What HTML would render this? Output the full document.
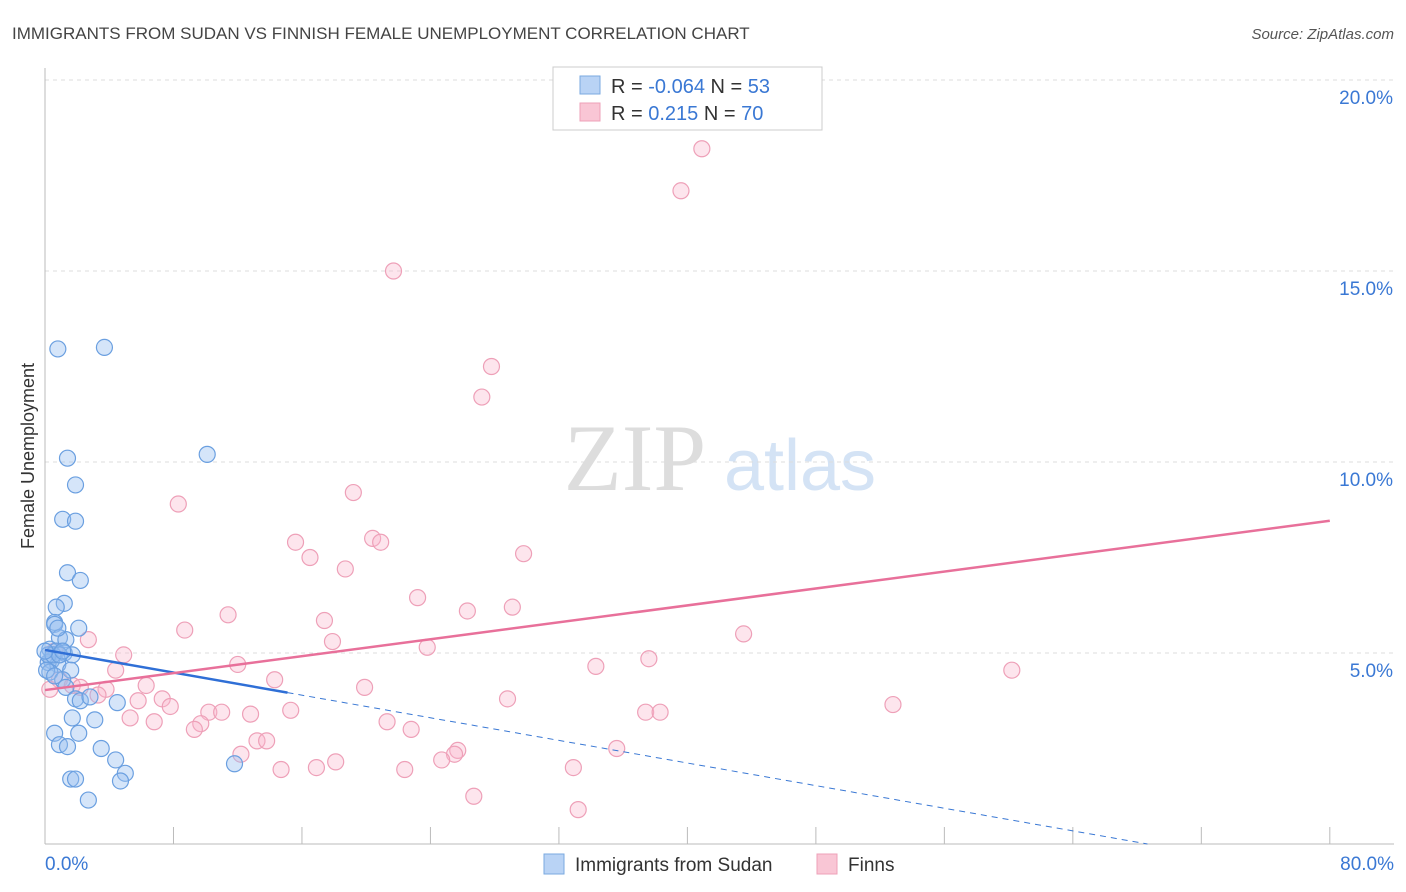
<!DOCTYPE html>
<html><head><meta charset="utf-8"><style>
body{margin:0;background:#fff;font-family:"Liberation Sans",sans-serif;}
svg{display:block}
</style></head><body>
<svg width="1406" height="892" id="c">
<text x="12" y="39" font-size="17" fill="#444">IMMIGRANTS FROM SUDAN VS FINNISH FEMALE UNEMPLOYMENT CORRELATION CHART</text>
<text x="1394" y="39" font-size="15" fill="#555" text-anchor="end" font-style="italic">Source: ZipAtlas.com</text>
<text x="0" y="0" transform="translate(34,456) rotate(-90)" font-size="18" fill="#333" text-anchor="middle">Female Unemployment</text>
<g>
<text x="635" y="490" font-size="95" fill="#ddd" text-anchor="middle" font-family="Liberation Serif,serif">ZIP</text>
<text x="800" y="490" font-size="72" fill="#d4e3f5" text-anchor="middle">atlas</text>
</g>
<g id="grid"></g><g id="marks"></g>
<g>
<rect x="553" y="67" width="269" height="63" fill="#fff" stroke="#ccc"/>
<rect x="580" y="76" width="20" height="18" fill="#b9d3f5" stroke="#7aa9e0"/>
<rect x="580" y="103" width="20" height="18" fill="#f9c6d5" stroke="#eea0b8"/>
<text x="611" y="93" font-size="20" fill="#333">R = <tspan fill="#3a78d4">-0.064</tspan>   N = <tspan fill="#3a78d4">53</tspan></text>
<text x="611" y="120" font-size="20" fill="#333">R =    <tspan fill="#3a78d4">0.215</tspan>   N = <tspan fill="#3a78d4">70</tspan></text>
</g>
<g>
<rect x="544" y="854" width="20" height="20" fill="#b9d3f5" stroke="#7aa9e0"/>
<text x="575" y="871" font-size="19" fill="#333">Immigrants from Sudan</text>
<rect x="817" y="854" width="20" height="20" fill="#f9c6d5" stroke="#eea0b8"/>
<text x="848" y="871" font-size="19" fill="#333">Finns</text>
</g>
</svg>
<script>
const yTicks=[5,10,15,20];
const yTickLabels=["5.0%","10.0%","15.0%","20.0%"];
const xTicks=[0,8,16,24,32,40,48,56,64,72,80];
const blueX=[0.8,3.7,1.4,10.1,1.9,1.1,1.9,1.4,2.2,1.2,0.7,0.6,0.6,2.1,0.9,1.3,0.3,0.7,1.2,1.7,0.4,0.2,0.8,1.6,0.3,1.1,1.3,1.9,2.2,2.8,4.5,1.7,3.1,0.6,2.1,0.9,1.4,3.5,4.4,11.8,5.0,1.6,1.9,4.7,2.7,0.2,0.5,0.9,0,1.1,0.8,0.1,0.6];
const blueY=[12.96,13.0,10.1,10.2,9.4,8.5,8.45,7.1,6.9,6.3,6.2,5.8,5.75,5.65,5.4,5.35,5.1,5.05,5.0,4.95,4.8,4.75,4.7,4.55,4.5,4.3,4.1,3.8,3.75,3.85,3.7,3.3,3.25,2.9,2.9,2.6,2.55,2.5,2.2,2.1,1.85,1.7,1.7,1.65,1.15,4.95,4.95,4.95,5.05,5.05,5.65,4.55,4.4];
const pinkX=[40.9,39.6,21.7,27.8,27.2,19.2,8.3,20.4,20.9,15.6,29.8,16.5,18.7,23.2,11.4,26.3,29.1,17.4,8.7,43.5,17.9,23.8,2.7,4.9,37.6,34.3,12.0,60.2,4.4,14.3,0.9,6.3,1.7,19.9,3.8,3.3,7.3,5.8,28.8,52.8,7.8,15.3,10.2,11.0,37.4,38.3,12.8,5.3,6.8,9.7,21.3,9.3,22.8,13.2,13.8,25.7,35.6,25.5,12.2,24.7,18.1,16.9,32.9,22.4,14.7,26.7,33.2,0.3,2.2,0.6];
const pinkY=[18.2,17.1,15.0,12.5,11.7,9.2,8.9,8.0,7.9,7.9,7.6,7.5,7.2,6.45,6.0,6.1,6.2,5.85,5.6,5.5,5.3,5.15,5.35,4.95,4.85,4.65,4.7,4.55,4.55,4.3,4.3,4.15,4.15,4.1,4.05,3.9,3.8,3.75,3.8,3.65,3.6,3.5,3.45,3.45,3.45,3.45,3.4,3.3,3.2,3.15,3.2,3.0,3.0,2.7,2.7,2.45,2.5,2.35,2.35,2.2,2.15,2.0,2.0,1.95,1.95,1.25,0.9,4.05,4.1,5.05];
const blueTrend=[5.08,-0.074];
const pinkTrend=[4.03,0.0554];
const X=v=>45+v*16.06, Y=v=>844-v*38.2;
const NS="http://www.w3.org/2000/svg";
function mk(t,a,p){const e=document.createElementNS(NS,t);for(const k in a)e.setAttribute(k,a[k]);p.appendChild(e);return e;}
const g=document.getElementById('grid'), m=document.getElementById('marks');
yTicks.forEach((t,i)=>{
 const l=mk('line',{x1:45,x2:1394,y1:Y(t),y2:Y(t),stroke:'#ddd','stroke-dasharray':'4,4'},g);
 
 
 const tx=mk('text',{x:1393,y:Y(t)+24,'font-size':19,fill:'#3a78d4','text-anchor':'end'},g);
 tx.textContent=yTickLabels[i];
 
 
});
const ax=mk('line',{x1:45,x2:45,y1:68,y2:844,stroke:'#bbb'},g);


const bx=mk('line',{x1:45,x2:1394,y1:844,y2:844,stroke:'#bbb'},g);


xTicks.forEach(t=>{
 const l=mk('line',{x1:X(t),x2:X(t),y1:827,y2:844,stroke:'#bbb'},g);
 
 
});
const x0=mk('text',{x:45,y:870,'font-size':19,fill:'#3a78d4'},g);x0.textContent='0.0%';


const x1=mk('text',{x:1394,y:870,'font-size':19,fill:'#3a78d4','text-anchor':'end'},g);x1.textContent='80.0%';


function dots(xs,ys,fill,stroke,name){xs.forEach((v,i)=>{
 const c=mk('circle',{cx:X(v),cy:Y(ys[i]),r:8,fill:fill,stroke:stroke,'stroke-width':1.2},m);
 
 
});}
dots(pinkX,pinkY,'rgba(248,180,204,0.35)','#eea0b8','finns-point');
dots(blueX,blueY,'rgba(150,190,240,0.4)','#6a9fe0','sudan-point');
const bEnd=-blueTrend[0]/blueTrend[1];
const d=mk('line',{x1:X(15.1),y1:Y(blueTrend[0]+blueTrend[1]*15.1),x2:X(bEnd),y2:Y(0),stroke:'#3a78d4','stroke-dasharray':'6,5','stroke-width':1},m);


const s=mk('line',{x1:X(0),y1:Y(blueTrend[0]),x2:X(15.1),y2:Y(blueTrend[0]+blueTrend[1]*15.1),stroke:'#2f6fd6','stroke-width':2.5},m);


const p=mk('line',{x1:X(0),y1:Y(pinkTrend[0]),x2:X(80),y2:Y(pinkTrend[0]+pinkTrend[1]*80),stroke:'#e8709a','stroke-width':2.5},m);


</script>
</body></html>
